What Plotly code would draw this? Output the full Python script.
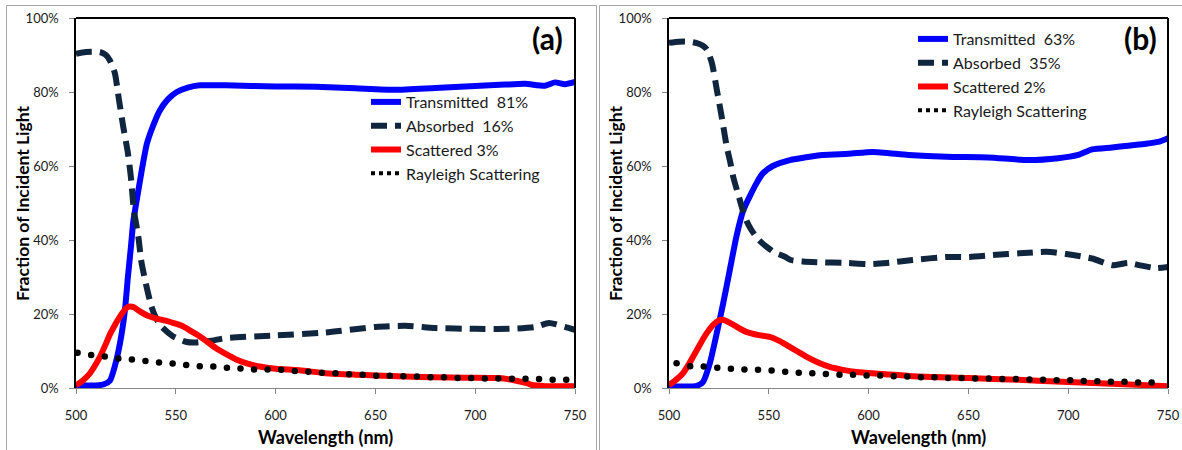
import plotly.graph_objects as go

W, H = 1182, 450

# ---------------- Panel (a) data ----------------
trans_a_wl = [500, 510, 514, 517, 519.5, 522, 524.5, 526, 527.5, 528.7, 530.5, 533, 535.5, 538, 542, 546, 550.5, 556, 562, 575, 600, 620, 640, 660, 680, 700, 715, 725, 735, 740, 745, 750]
trans_a = [0.7, 0.7, 1.0, 2, 6, 12, 21, 30, 38, 45, 51, 59, 66, 70, 75, 78, 80, 81.2, 81.8, 81.8, 81.5, 81.4, 81.0, 80.6, 81.1, 81.6, 82.0, 82.2, 81.7, 82.6, 82.1, 82.7]

abs_a_wl = [500, 505, 512, 515, 517, 519.5, 521.5, 523.7, 526, 527.5, 529, 531.2, 532.8, 535.3, 537.8, 540, 543, 548.5, 555, 560, 568, 575, 600, 625, 650, 665, 680, 700, 717, 730, 737, 745, 750]
abs_a = [90.3, 90.8, 90.8, 90.0, 88.5, 85, 78, 70.5, 63.5, 57, 48, 41, 34, 27.5, 22, 19, 16.5, 14, 12.5, 12.3, 12.8, 13.5, 14.2, 15, 16.5, 16.8, 16.2, 16, 16, 16.5, 17.6, 16.5, 15.7]

scat_a_wl = [500, 502, 505, 507, 510, 512, 515, 517, 520, 522, 525, 527, 529, 532, 536, 540, 545, 548.5, 553, 557, 561, 565, 570, 575, 580, 586, 592, 600, 612, 625, 640, 650, 665, 680, 695, 712, 718.5, 722, 725.5, 728.5, 735, 750]
scat_a = [0.8, 1.4, 2.8, 4, 6.5, 8.4, 12, 14.5, 17.5, 19.3, 21.5, 22, 21.8, 20.7, 19.5, 18.8, 18.2, 17.6, 16.8, 15.6, 14.3, 12.8, 10.8, 9.2, 7.8, 6.6, 5.8, 5.2, 4.8, 4.0, 3.6, 3.4, 3.1, 2.9, 2.8, 2.7, 2.2, 1.8, 1.4, 0.8, 0.5, 0.5]

ray_a_wl = [500.8, 507.6, 514.4, 521.2, 528.0, 534.8, 541.6, 548.4, 555.2, 562.0, 568.8, 575.6, 582.4, 589.2, 596.0, 602.8, 609.6, 616.4, 623.2, 630.0, 636.8, 643.6, 650.4, 657.2, 664.0, 670.8, 677.6, 684.4, 691.2, 698.0, 704.8, 711.6, 718.4, 725.2, 732.0, 738.8, 745.6]
ray_a = [9.5, 8.9, 8.5, 8.0, 7.7, 7.3, 6.9, 6.6, 6.2, 5.9, 5.8, 5.5, 5.3, 5.0, 5.0, 4.9, 4.6, 4.4, 4.1, 4.0, 3.7, 3.6, 3.3, 3.3, 3.2, 3.1, 2.9, 2.9, 2.7, 2.7, 2.6, 2.6, 2.5, 2.5, 2.4, 2.2, 2.2]

# ---------------- Panel (b) data ----------------
trans_b_wl = [500, 510, 514, 517, 520.5, 524, 527, 530.5, 533.8, 537.2, 543.8, 547, 552, 560.6, 577, 590, 602, 620, 639, 660, 680, 695, 705, 712, 722, 730, 739, 745, 750]
trans_b = [0.4, 0.4, 0.6, 1.6, 6.8, 15, 22.5, 32, 41, 48, 55.3, 58, 60, 61.6, 63, 63.3, 63.8, 63, 62.5, 62.3, 61.6, 62.1, 63, 64.5, 65, 65.5, 66, 66.5, 67.5]

abs_b_wl = [500, 505, 510, 514, 517, 519, 521.5, 524, 526.5, 529, 530.5, 532.2, 535.5, 537.2, 539, 541.3, 545, 548.8, 553, 558, 561, 567, 574, 589, 600.5, 609, 622, 639, 650.5, 664, 675.5, 689, 699, 712, 722, 730, 735.5, 744, 750]
abs_b = [93.3, 93.6, 93.6, 93.2, 92.5, 91.5, 87.8, 80.5, 73, 65, 61.5, 57, 50.8, 47.6, 45, 42.7, 40, 38.2, 36.6, 35.5, 34.6, 34.2, 34, 33.8, 33.5, 33.8, 34.6, 35.4, 35.4, 36, 36.4, 36.8, 36.2, 35, 33.2, 33.8, 33.2, 32.4, 32.7]

scat_b_wl = [500, 503, 507, 510, 514, 517, 519, 522, 525.5, 528, 530.5, 535, 539, 545, 550.5, 555, 559, 564, 569, 575, 580.5, 587, 594, 607, 622, 650, 675, 700, 725, 750]
scat_b = [0.8, 2, 4, 6.5, 10.3, 13.2, 14.9, 17, 18.4, 18.3, 17.6, 16.2, 15.1, 14.3, 13.8, 12.8, 11.6, 10, 8.4, 6.8, 5.7, 4.9, 4.3, 3.8, 3.2, 2.7, 2.2, 1.6, 1.1, 0.5]

ray_b_wl = [503.8, 510.6, 517.4, 524.2, 531.0, 537.8, 544.6, 551.4, 558.2, 565.0, 571.8, 578.6, 585.4, 592.2, 599.0, 605.8, 612.6, 619.4, 626.2, 633.0, 639.8, 646.6, 653.4, 660.2, 667.0, 673.8, 680.6, 687.4, 694.2, 701.0, 707.8, 714.6, 721.4, 728.2, 735.0, 741.8]
ray_b = [6.7, 5.9, 5.8, 5.5, 5.2, 5.0, 4.9, 4.7, 4.4, 4.1, 4.0, 3.8, 3.6, 3.6, 3.4, 3.4, 3.2, 3.1, 2.9, 2.9, 2.7, 2.7, 2.6, 2.6, 2.4, 2.4, 2.3, 2.2, 2.1, 2.1, 1.9, 1.8, 1.7, 1.7, 1.5, 1.5]

legend_names_a = ["Transmitted  81%", "Absorbed  16%", "Scattered 3%", "Rayleigh Scattering"]
legend_names_b = ["Transmitted  63%", "Absorbed  35%", "Scattered 2%", "Rayleigh Scattering"]
x_ticks = [500, 550, 600, 650, 700, 750]
y_ticks = [0, 20, 40, 60, 80, 100]
y_tick_labels = ["0%", "20%", "40%", "60%", "80%", "100%"]

BLUE = "#0000FF"
NAVY = "#10263F"
RED = "#FF0000"
FONT = "Lato"

fig = go.Figure()

def add_panel(xa, ya, leg, names, tw, tv, aw, av, sw, sv, rw, rv):
    fig.add_trace(go.Scatter(x=tw, y=tv, mode="lines", name=names[0], xaxis=xa, yaxis=ya, legend=leg,
                             line=dict(color=BLUE, width=6, shape="spline", smoothing=0.6)))
    fig.add_trace(go.Scatter(x=aw, y=av, mode="lines", name=names[1], xaxis=xa, yaxis=ya, legend=leg,
                             line=dict(color=NAVY, width=6, dash="16px,8px", shape="spline", smoothing=0.6)))
    fig.add_trace(go.Scatter(x=sw, y=sv, mode="lines", name=names[2], xaxis=xa, yaxis=ya, legend=leg,
                             line=dict(color=RED, width=6, shape="spline", smoothing=0.6)))
    fig.add_trace(go.Scatter(x=rw, y=rv, mode="markers", name=names[3], xaxis=xa, yaxis=ya, legend=leg,
                             showlegend=False, marker=dict(color="black", size=6.5)))
    # legend-only entry for the dotted Rayleigh line
    fig.add_trace(go.Scatter(x=[None], y=[None], mode="lines", name=names[3], xaxis=xa, yaxis=ya, legend=leg,
                             line=dict(color="black", width=4, dash="4px,4px")))

add_panel("x", "y", "legend", legend_names_a, trans_a_wl, trans_a, abs_a_wl, abs_a, scat_a_wl, scat_a, ray_a_wl, ray_a)
add_panel("x2", "y2", "legend2", legend_names_b, trans_b_wl, trans_b, abs_b_wl, abs_b, scat_b_wl, scat_b, ray_b_wl, ray_b)

y_dom = [1 - 388 / H, 1 - 18 / H]
xdoms = [[76 / W, 575 / W], [669 / W, 1168 / W]]

common_x = dict(range=[500, 750], tickvals=x_ticks, showline=True, linecolor="#868686", linewidth=1,
                ticks="outside", ticklen=5, tickcolor="#868686", showgrid=False, zeroline=False,
                tickfont=dict(family=FONT, size=13, color="#1a1a1a"), ticklabelstandoff=10,
                fixedrange=True, automargin=False)
common_y = dict(range=[0, 100], tickvals=y_ticks, ticktext=y_tick_labels, showline=True, linecolor="black",
                linewidth=1.5, ticks="outside", ticklen=5, tickcolor="#868686", showgrid=False, zeroline=False,
                tickfont=dict(family=FONT, size=13, color="#1a1a1a"), ticklabelstandoff=8,
                fixedrange=True, automargin=False)

fig.update_layout(
    width=W, height=H, autosize=False,
    margin=dict(l=0, r=0, t=0, b=0, pad=0, autoexpand=False),
    paper_bgcolor="white", plot_bgcolor="white",
    font=dict(family=FONT, color="#1a1a1a"),
    xaxis=dict(domain=xdoms[0], anchor="y", **common_x),
    yaxis=dict(domain=y_dom, anchor="x", **common_y),
    xaxis2=dict(domain=xdoms[1], anchor="y2", **common_x),
    yaxis2=dict(domain=y_dom, anchor="x2", **common_y),
    legend=dict(x=366 / W, y=1 - 85 / H, xanchor="left", yanchor="top", bgcolor="rgba(0,0,0,0)",
                font=dict(family=FONT, size=16, color="#1a1a1a"), tracegroupgap=0),
    legend2=dict(x=913 / W, y=1 - 22 / H, xanchor="left", yanchor="top", bgcolor="rgba(0,0,0,0)",
                 font=dict(family=FONT, size=16, color="#1a1a1a"), tracegroupgap=0),
    showlegend=True,
)

shapes = [
    dict(type="rect", xref="paper", yref="paper", x0=6.5 / W, x1=596.5 / W, y0=-0.05, y1=1 - 5.5 / H,
         line=dict(color="#A6A6A6", width=1), layer="below"),
    dict(type="rect", xref="paper", yref="paper", x0=599.5 / W, x1=1.05, y0=-0.05, y1=1 - 5.5 / H,
         line=dict(color="#A6A6A6", width=1), layer="below"),
]
for xr, yr in [("x domain", "y domain"), ("x2 domain", "y2 domain")]:
    shapes.append(dict(type="line", xref=xr, yref=yr, x0=0, x1=1, y0=1, y1=1, line=dict(color="black", width=2)))
    shapes.append(dict(type="line", xref=xr, yref=yr, x0=1, x1=1, y0=0, y1=1, line=dict(color="black", width=2)))
fig.update_layout(shapes=shapes)

ann = []
for lbl, cx, ycx, panel_x in [("(a)", 547.5, 22, 325.5), ("(b)", 1140, 615, 918.5)]:
    ann.append(dict(text="<b>%s</b>" % lbl, x=cx / W, y=1 - 38 / H, xref="paper", yref="paper",
                    showarrow=False, xanchor="center", yanchor="middle",
                    font=dict(family=FONT, size=30, color="black")))
    ann.append(dict(text="<b>Wavelength (nm)</b>", x=panel_x / W, y=1 - 437 / H, xref="paper", yref="paper",
                    showarrow=False, xanchor="center", yanchor="middle",
                    font=dict(family=FONT, size=18, color="black")))
    ann.append(dict(text="<b>Fraction of Incident Light</b>", x=ycx / W, y=1 - 203 / H, xref="paper", yref="paper",
                    showarrow=False, xanchor="center", yanchor="middle", textangle=-90,
                    font=dict(family=FONT, size=17.5, color="black")))
fig.update_layout(annotations=ann)

fig.write_html("out.html", config={"displayModeBar": False},
               post_script="document.body.style.margin='0';document.body.style.overflow='hidden';")
